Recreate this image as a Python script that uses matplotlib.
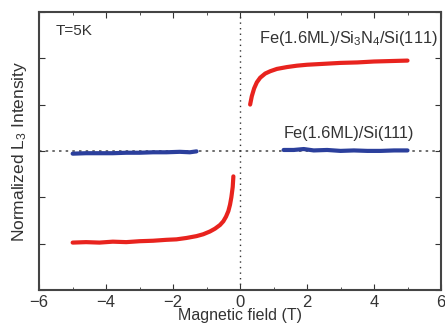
import matplotlib.pyplot as plt
from matplotlib.ticker import MultipleLocator

plt.rcParams["font.family"] = ["Liberation Sans", "DejaVu Sans"]
plt.rcParams["mathtext.fontset"] = "custom"
plt.rcParams["mathtext.rm"] = "Liberation Sans"
plt.rcParams["mathtext.it"] = "Liberation Sans:italic"

# Fe(1.6ML)/Si3N4/Si(111), field sweep
red_neg_x = [-5.0, -4.6, -4.2, -3.8, -3.4, -3.0, -2.6, -2.2, -1.9, -1.6, -1.3, -1.1,
             -0.9, -0.75, -0.6, -0.5, -0.42, -0.35, -0.3, -0.26, -0.22, -0.2]
red_neg_y = [-1.98, -1.97, -1.98, -1.96, -1.97, -1.95, -1.94, -1.92, -1.91, -1.88, -1.84, -1.80,
             -1.74, -1.68, -1.60, -1.52, -1.42, -1.30, -1.16, -1.00, -0.78, -0.55]
red_pos_x = [0.3, 0.35, 0.42, 0.5, 0.6, 0.75, 0.9, 1.1, 1.4, 1.7, 2.0, 2.5, 3.0, 3.5, 4.0, 4.5, 5.0]
red_pos_y = [1.00, 1.18, 1.35, 1.48, 1.58, 1.67, 1.72, 1.77, 1.81, 1.84, 1.86, 1.88, 1.90, 1.91, 1.93, 1.94, 1.95]

# Fe(1.6ML)/Si(111)
blue_neg_x = [-5.0, -4.6, -4.2, -3.8, -3.4, -3.0, -2.6, -2.2, -1.8, -1.5, -1.3]
blue_neg_y = [-0.06, -0.05, -0.05, -0.05, -0.04, -0.04, -0.03, -0.03, -0.02, -0.03, -0.01]
blue_pos_x = [1.3, 1.6, 1.9, 2.2, 2.6, 3.0, 3.4, 3.8, 4.2, 4.6, 5.0]
blue_pos_y = [0.02, 0.02, 0.04, 0.01, 0.02, 0.0, 0.01, 0.0, 0.0, 0.01, 0.01]

fig = plt.figure(figsize=(4.45, 3.32), dpi=100)
ax = fig.add_axes([0.088, 0.127, 0.903, 0.837])

red = "#e8231e"
blue = "#2b3f9c"
ax.plot(red_neg_x, red_neg_y, color=red, lw=3, solid_capstyle="round")
ax.plot(red_pos_x, red_pos_y, color=red, lw=3, solid_capstyle="round")
ax.plot(blue_neg_x, blue_neg_y, color=blue, lw=3, solid_capstyle="round")
ax.plot(blue_pos_x, blue_pos_y, color=blue, lw=3, solid_capstyle="round")

ax.axhline(0, color="#555555", lw=1.2, ls=(0, (1.5, 2.5)), zorder=0)
ax.axvline(0, color="#333333", lw=1.0, ls=(0, (1, 3)), zorder=0)

ax.set_xlim(-6, 6)
ax.set_ylim(-3, 3)
ax.xaxis.set_major_locator(MultipleLocator(2))
ax.xaxis.set_minor_locator(MultipleLocator(1))
ax.yaxis.set_major_locator(MultipleLocator(1))
ax.set_yticklabels([])
ax.tick_params(which="both", direction="in", top=True, right=True, labelsize=12, colors="#333333")
ax.tick_params(which="major", length=4)
ax.tick_params(which="minor", length=2.5)
for s in ax.spines.values():
    s.set_linewidth(1.5)
    s.set_color("#444444")

ax.set_xlabel("Magnetic field (T)", fontsize=11.5, labelpad=-1, color="#333333")
ax.set_ylabel("Normalized L$_3$ Intensity", fontsize=12.5, labelpad=4, color="#333333")

ax.text(-5.5, 2.5, "T=5K", fontsize=11, color="#333333")
ax.text(5.9, 2.33, "Fe(1.6ML)/Si$_3$N$_4$/Si(111)", fontsize=11.8, ha="right", color="#333333")
ax.text(1.3, 0.28, "Fe(1.6ML)/Si(111)", fontsize=11.8, color="#333333")

fig.savefig("out.png", dpi=100)
